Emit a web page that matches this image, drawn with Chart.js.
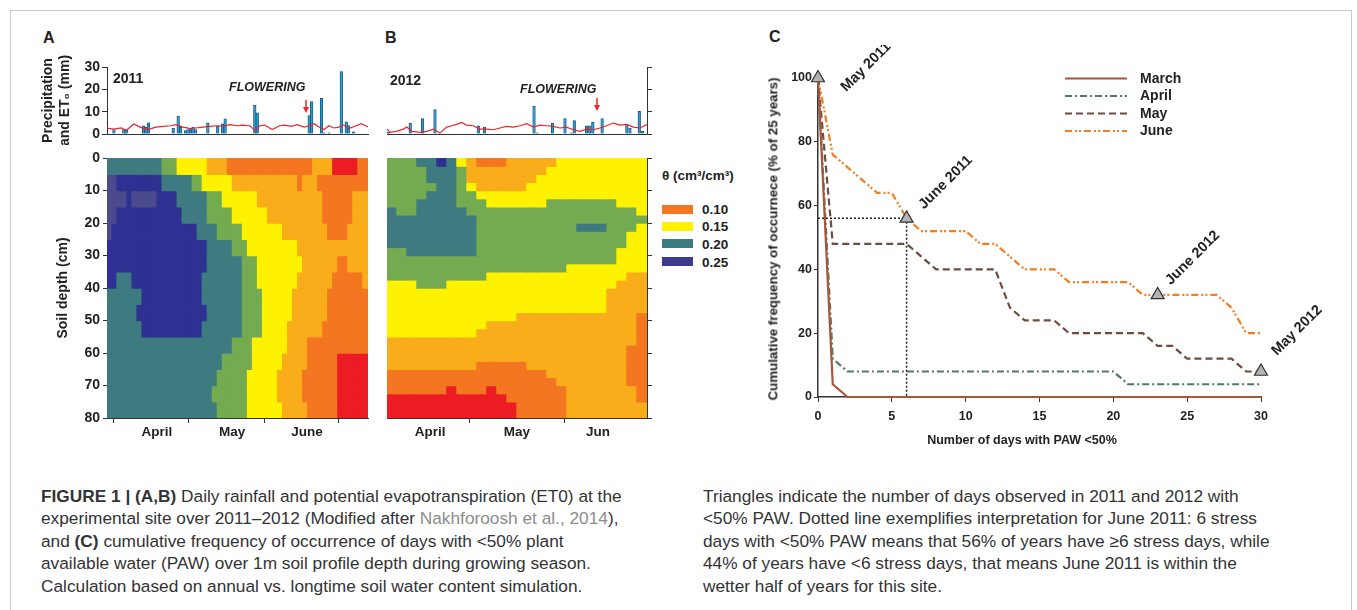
<!DOCTYPE html>
<html>
<head>
<meta charset="utf-8">
<title>Figure 1</title>
<script src="https://cdn.jsdelivr.net/npm/chart.js@4.4.1/dist/chart.umd.min.js"></script>
<style>
  body { margin: 0; background: #fff; }
  #page { position: relative; width: 1357px; height: 610px; overflow: hidden; font-family: 'Liberation Sans', Arial, sans-serif; color: #222; }
  #page canvas { position: absolute; }
  .t { position: absolute; white-space: nowrap; line-height: 1; }
  .letter { font-size: 16px; font-weight: bold; }
  .year { font-size: 14px; font-weight: bold; }
  .flower { font-size: 12.5px; font-weight: bold; font-style: italic; }
  .rot { position: absolute; white-space: nowrap; font-size: 13.3px; font-weight: bold; line-height: 1; transform: translate(-50%, -50%) rotate(-90deg); }
  .cap { position: absolute; top: 487px; font-size: 16px; line-height: 22.6px; color: #333; white-space: nowrap; }
  .cap .ref { color: #8c8c8c; }
  .key { position: absolute; left: 662px; width: 31px; height: 9px; }
  .keylab { position: absolute; left: 702px; font-size: 13.5px; font-weight: bold; line-height: 1; }
  #frame { position: absolute; left: 10px; top: 10px; width: 1342px; height: 640px; border: 1px solid #c9c9c9; box-sizing: border-box; }
</style>
</head>
<body>
<div id="page">
  <div id="frame"></div>

  <div class="t letter" style="left:43px;top:30px">A</div>
  <div class="t letter" style="left:385px;top:30px">B</div>
  <div class="t letter" style="left:769px;top:29px">C</div>

  <canvas id="rainA" width="335" height="90" style="left:40px;top:55px"></canvas>
  <canvas id="soilA" width="335" height="305" style="left:40px;top:145px"></canvas>
  <canvas id="rainB" width="280" height="90" style="left:380px;top:55px"></canvas>
  <canvas id="soilB" width="280" height="305" style="left:380px;top:145px"></canvas>
  <canvas id="freqC" width="602" height="415" style="left:755px;top:45px"></canvas>

  <div class="t year" style="left:113px;top:71px">2011</div>
  <div class="t year" style="left:390px;top:73px">2012</div>
  <div class="t flower" style="left:229px;top:81px">FLOWERING</div>
  <div class="t flower" style="left:520px;top:83px">FLOWERING</div>
  <svg class="t" style="left:300px;top:100px" width="12" height="14">
    <line x1="6" y1="0" x2="6" y2="8" stroke="#e8262b" stroke-width="1.5"/>
    <path d="M3 7 L9 7 L6 13 Z" fill="#e8262b"/>
  </svg>
  <svg class="t" style="left:591px;top:98px" width="12" height="14">
    <line x1="6" y1="0" x2="6" y2="8" stroke="#e8262b" stroke-width="1.5"/>
    <path d="M3 7 L9 7 L6 13 Z" fill="#e8262b"/>
  </svg>

  <div class="t" style="left:662px;top:168.5px;font-size:13.5px;font-weight:bold">θ (cm³/cm³)</div>
  <div class="key" style="top:205px;background:#f47621"></div>
  <div class="key" style="top:222px;background:#fff200"></div>
  <div class="key" style="top:239px;background:#3e7b81"></div>
  <div class="key" style="top:257px;background:#3b3a8c"></div>
  <div class="keylab" style="top:203px">0.10</div>
  <div class="keylab" style="top:220px">0.15</div>
  <div class="keylab" style="top:237.5px">0.20</div>
  <div class="keylab" style="top:255.5px">0.25</div>

  <div class="rot" style="left:773px;top:239px">Cumulative frequency of occurnece (% of 25 years)</div>
  <div class="t" style="left:1022px;top:434px;transform:translateX(-50%);font-size:12.5px;font-weight:bold">Number of days with PAW &lt;50%</div>

  <div class="cap" id="capL" style="left:41px">
    <span><b>FIGURE 1 | (A,B)</b> Daily rainfall and potential evapotranspiration (ET0) at the</span><br>
    <span>experimental site over 2011–2012 (Modified after <span class="ref">Nakhforoosh et al., 2014</span>),</span><br>
    <span>and <b>(C)</b> cumulative frequency of occurrence of days with &lt;50% plant</span><br>
    <span>available water (PAW) over 1m soil profile depth during growing season.</span><br>
    <span>Calculation based on annual vs. longtime soil water content simulation.</span>
  </div>
  <div class="cap" id="capR" style="left:703px">
    <span>Triangles indicate the number of days observed in 2011 and 2012 with</span><br>
    <span>&lt;50% PAW. Dotted line exemplifies interpretation for June 2011: 6 stress</span><br>
    <span>days with &lt;50% PAW means that 56% of years have ≥6 stress days, while</span><br>
    <span>44% of years have &lt;6 stress days, that means June 2011 is within the</span><br>
    <span>wetter half of years for this site.</span>
  </div>
</div>

<script>
// ===== A/B: daily rain and ET0 (days counted from 1 April) =====
const rainDaysA = [0, 4, 5, 12, 13, 14, 24, 26, 27, 29, 30, 31, 32, 33, 38, 42, 44, 45, 57, 58, 79, 80, 84, 85, 87, 92, 94, 95, 97];
const rainA = [2, 2, 2, 3.7, 3, 5, 2.7, 8, 3, 1.5, 2, 2.5, 3, 2, 5, 3.5, 4.5, 6.8, 13, 9.5, 8.3, 14.5, 16, 0.5, 0.5, 28, 5.4, 3.8, 1];
const etDaysA = [-3, 0, 3, 5, 8, 10, 13, 15, 17, 20, 23, 25, 28, 31, 33, 36, 39, 42, 44, 47, 50, 52, 55, 57, 59, 61, 64, 67, 69, 72, 74, 77, 79, 81, 83, 85, 87, 89, 91, 93, 95, 98, 100, 103];
const etA = [2.7, 2.2, 2.7, 1.6, 4.5, 3.4, 2, 2.4, 3.1, 3.4, 3.7, 4.2, 3.1, 2.4, 2.7, 3.1, 3.4, 3.7, 3.4, 4.2, 3.7, 4, 3.7, 1.6, 3.7, 4, 2, 3.7, 4, 3.4, 4.2, 3.1, 3.7, 4.6, 3.1, 2, 3.7, 2.7, 3.1, 4, 2.4, 3.7, 4.6, 3.1];

const rainDaysB = [4, 11, 15, 19, 33, 35, 51, 52, 57, 61, 63, 64, 68, 69, 70, 73, 81, 82, 85, 86];
const rainB = [0.8, 4.9, 6.9, 10.9, 3.7, 3.1, 12.4, 0.5, 4.9, 6.9, 0.5, 6, 3.7, 3.7, 5.2, 6.9, 4.2, 2.7, 10.1, 1.2];
const etDaysB = [3.6, 4.5, 6.6, 8.8, 9.9, 11.5, 14.2, 16.3, 18.5, 20.6, 22.8, 24.4, 26, 27.6, 29.2, 31.4, 33.5, 35.7, 37.8, 40, 42.1, 44.3, 46.5, 48.6, 50.8, 52.9, 55.1, 57.2, 59.4, 61.5, 63.7, 65.8, 68, 70.1, 72.3, 74.4, 76.6, 78.8, 80.9, 83.1, 85.2, 87.4];
const etB = [2.2, 0.7, 1.2, 2.2, 3.1, 1.2, 0.7, 1.2, 2.2, 0.4, 3.1, 3.7, 4.3, 5.2, 4, 3.7, 2.2, 2.2, 1.9, 2.7, 3.4, 3.1, 3.7, 4.6, 3.1, 4, 3.7, 3.4, 2.7, 3.1, 1.9, 1.2, 2.2, 1.9, 2.7, 3.7, 4.9, 4, 4.3, 3.1, 2.7, 4.2];

const dayRangeA = [-2.8, 102.8];
const dayRangeB = [3.5, 87.5];
const monthStartsA = [0, 30, 61, 91];
const monthStartsB = [30, 61];
const monthNamesA = ['April', 'May', 'June'];
const monthNamesB = ['April', 'May', 'Jun'];
const monthLabelDaysA = [17.4, 47.8, 78.1];
const monthLabelDaysB = [17.4, 45.5, 71.7];

// ===== A/B: soil water content classes (run-length rows, top to bottom) =====
// R red, O orange, A light orange, Y yellow, G green, T teal, B blue, P grey-blue
const depthEdgesA = [0, 5, 10, 15, 20, 25, 30, 35, 40, 45, 50, 55, 60, 65, 70, 75, 80];
const thetaA = [
  'T11 G3 Y6 A4 O17 A4 R5 O2',
  'P2 B9 T6 G2 Y6 A13 O1 A3 O10',
  'P4 B1 P5 B4 T6 G3 Y7 A13 O6 A3',
  'P2 B13 T5 G5 Y7 A11 O6 A3',
  'P1 B17 T4 G5 Y8 A9 O4 A4',
  'B20 T5 G3 Y10 A14',
  'B20 T7 G3 Y9 A7 O2 A4',
  'B2 T3 B14 T8 G3 Y8 A7 O6 A1',
  'T7 B12 T8 G4 Y6 A7 O8',
  'T6 B14 T7 G4 Y6 A7 O8',
  'T7 B12 T8 G4 Y5 A7 O9',
  'T25 G4 Y7 A4 O12',
  'T23 G6 Y6 A5 O6 R6',
  'T22 G6 Y6 A5 O7 R6',
  'T21 G7 Y6 A5 O7 R6',
  'T22 G6 Y7 A5 O6 R6'
];
const depthEdgesB = [0, 2.5, 5, 7.5, 10, 12.5, 15, 17.5, 20, 22.5, 25, 27.5, 30, 32.5, 35, 37.5, 40, 42.5, 45, 47.5, 50, 52.5, 55, 57.5, 60, 62.5, 65, 67.5, 70, 72.5, 75, 77.5, 80];
const thetaB = [
  'G3 T2 B1 T1 Y1 A1 O3 A5 Y9',
  'G4 T3 G1 A8 Y10',
  'G4 T3 G1 A7 Y11',
  'G5 T2 G1 Y1 A5 Y12',
  'G4 T3 G2 Y17',
  'G3 T4 G3 Y6 G7 Y3',
  'T1 G2 T5 G17 Y1',
  'T9 G17',
  'T9 G10 T3 G3 Y1',
  'T9 G15 Y2',
  'T9 G15 Y2',
  'G2 T7 G14 Y3',
  'G23 Y3',
  'G18 Y8',
  'G10 Y14 A2',
  'Y3 G3 Y17 A3',
  'Y22 A4',
  'Y22 A4',
  'Y22 A4',
  'Y13 A12 O1',
  'Y10 A15 O1',
  'Y9 A16 O1',
  'A25 O1',
  'A24 O2',
  'A24 O2',
  'A9 O5 A10 O2',
  'O16 A8 O2',
  'O17 A7 O2',
  'O6 R1 O3 R1 O7 A7 O1',
  'R12 O6 A7 O1',
  'R13 O5 A8',
  'R13 O5 A8'
];

// ===== C: cumulative frequency (% of 25 years) =====
const daysC = [0, 1, 2, 3, 4, 5, 6, 7, 8, 9, 10, 11, 12, 13, 14, 15, 16, 17, 18, 19, 20, 21, 22, 23, 24, 25, 26, 27, 28, 29, 30];
const marchC = [100, 4, 0, 0, 0, 0, 0, 0, 0, 0, 0, 0, 0, 0, 0, 0, 0, 0, 0, 0, 0, 0, 0, 0, 0, 0, 0, 0, 0, 0, 0];
const aprilC = [100, 12, 8, 8, 8, 8, 8, 8, 8, 8, 8, 8, 8, 8, 8, 8, 8, 8, 8, 8, 8, 4, 4, 4, 4, 4, 4, 4, 4, 4, 4];
const mayC = [100, 48, 48, 48, 48, 48, 48, 44, 40, 40, 40, 40, 40, 28, 24, 24, 24, 20, 20, 20, 20, 20, 20, 16, 16, 12, 12, 12, 12, 8, 8];
const juneC = [100, 76, 72, 68, 64, 64, 56, 52, 52, 52, 52, 48, 48, 44, 40, 40, 40, 36, 36, 36, 36, 36, 32, 32, 32, 32, 32, 32, 28, 20, 20];
const obsDays = [0, 6, 23, 30];
const obsFreq = [100, 56, 32, 8];
const obsNames = ['May 2011', 'June 2011', 'June 2012', 'May 2012'];
const guideDays = [0, 6, 6];
const guideFreq = [56, 56, 0];

// ===== styles =====
const thetaColors = { R: '#ec1c24', O: '#f47621', A: '#f9ad1a', Y: '#fff200', G: '#74aa50', T: '#3e7b81', B: '#2e3192', P: '#4a4a8c' };
const seriesC = [
  { label: 'March', data: marchC, color: '#a5573b', dash: [] },
  { label: 'April', data: aprilC, color: '#4f7c5f', dash: [7, 3, 2, 3] },
  { label: 'May', data: mayC, color: '#6e4d40', dash: [7, 4] },
  { label: 'June', data: juneC, color: '#f47d20', dash: [7, 3, 2, 2, 2, 3] }
];
const tagOffsets = [[48, -11], [39, -36], [35, -37], [36, -41]];

Chart.defaults.font.family = "'Liberation Sans', 'DejaVu Sans', Arial, sans-serif";
Chart.defaults.color = '#222';
const axisLine = { display: true, color: '#333', width: 1 };
const boldTick = size => ({ size: size, weight: 'bold' });
const base = {
  responsive: false, animation: false, devicePixelRatio: 1, events: [],
  plugins: { legend: { display: false }, tooltip: { enabled: false } }
};

function pts(xs, ys) { return xs.map((x, i) => ({ x: x, y: ys[i] })); }

function runs(row) {
  const out = [];
  row.split(' ').forEach(tok => {
    const n = parseInt(tok.slice(1), 10);
    for (let i = 0; i < n; i++) out.push(tok[0]);
  });
  return out;
}

// --- precipitation strip ---
function rainChart(id, days, rain, etDays, et, range, side) {
  const left = side === 'left';
  new Chart(document.getElementById(id), {
    type: 'bar',
    data: {
      datasets: [
        { type: 'line', data: pts(etDays, et), borderColor: '#e8262b', borderWidth: 1.2, pointRadius: 0, tension: 0 },
        { type: 'bar', data: pts(days, rain), backgroundColor: '#2a9fd6', borderColor: '#17476b', borderWidth: 0.8, barThickness: 2.6, grouped: false }
      ]
    },
    options: {
      ...base,
      layout: { padding: left ? { left: 0, right: 7, top: 12, bottom: 11 } : { left: 7, right: 0, top: 12, bottom: 11 } },
      scales: {
        x: {
          type: 'linear', min: range[0], max: range[1], offset: false,
          ticks: { display: false }, grid: { display: false }, border: axisLine,
          afterFit: s => { s.height = 0; }
        },
        y: {
          position: side, min: 0, max: 30,
          ticks: { display: left, stepSize: 10, font: boldTick(14), padding: 2 },
          grid: { drawOnChartArea: false, tickLength: 5, color: '#333' },
          border: axisLine,
          title: { display: left, text: ['Precipitation', 'and ET₀ (mm)'], font: { size: 14, weight: 'bold' }, padding: { top: 0, bottom: 0 } },
          afterFit: s => { s.width = left ? 67 : 13; }
        }
      }
    }
  });
}

// --- soil water contour, drawn as cells ---
function soilChart(id, grid, edges, range, starts, labelDays, names, side) {
  const left = side === 'left';
  const rows = grid.map(runs);
  const cols = rows[0].map((_, i) => i);
  const monthTicks = starts.map(v => ({ value: v, label: '' }))
    .concat(labelDays.map((v, i) => ({ value: v, label: names[i] })))
    .sort((a, b) => a.value - b.value);
  new Chart(document.getElementById(id), {
    type: 'bar',
    data: {
      labels: cols,
      datasets: rows.map((cls, r) => ({
        data: cls.map(() => [edges[r], edges[r + 1]]),
        backgroundColor: cls.map(c => thetaColors[c]),
        borderWidth: 0, inflateAmount: 0.7, grouped: false,
        categoryPercentage: 1, barPercentage: 1
      }))
    },
    options: {
      ...base,
      layout: { padding: left ? { left: 0, right: 7, top: 13, bottom: 10 } : { left: 7, right: 0, top: 13, bottom: 10 } },
      scales: {
        x: { display: false },
        xd: {
          type: 'linear', position: 'bottom', min: range[0], max: range[1], offset: false,
          afterBuildTicks: ax => { ax.ticks = monthTicks.map(t => ({ value: t.value })); },
          afterFit: s => { s.height = 22; },
          ticks: { autoSkip: false, maxRotation: 0, padding: 1, font: boldTick(13.5), callback: (v, i) => monthTicks[i].label },
          grid: {
            offset: false, drawOnChartArea: false, tickLength: 5,
            tickColor: c => (monthTicks[c.index] && monthTicks[c.index].label === '') ? '#333' : 'rgba(0,0,0,0)'
          },
          border: axisLine
        },
        y: {
          position: side, reverse: true, min: 0, max: 80,
          ticks: { display: left, stepSize: 10, font: boldTick(14), padding: 3 },
          grid: { drawOnChartArea: false, tickLength: left ? 4 : 5, color: '#333' },
          border: axisLine,
          title: { display: left, text: 'Soil depth (cm)', font: { size: 14, weight: 'bold' }, padding: { top: 15, bottom: 0 } },
          afterFit: s => { s.width = left ? 67 : 13; }
        }
      }
    }
  });
}

rainChart('rainA', rainDaysA, rainA, etDaysA, etA, dayRangeA, 'left');
rainChart('rainB', rainDaysB, rainB, etDaysB, etB, dayRangeB, 'right');
soilChart('soilA', thetaA, depthEdgesA, dayRangeA, monthStartsA, monthLabelDaysA, monthNamesA, 'left');
soilChart('soilB', thetaB, depthEdgesB, dayRangeB, monthStartsB, monthLabelDaysB, monthNamesB, 'right');

// --- panel C ---
const tagsAndKey = {
  id: 'tagsAndKey',
  afterDatasetsDraw(chart) {
    const { ctx, scales: { x, y } } = chart;
    ctx.save();
    ctx.fillStyle = '#222';
    ctx.textBaseline = 'middle';
    ctx.font = "bold 14.5px 'Liberation Sans', Arial, sans-serif";
    ctx.textAlign = 'center';
    obsDays.forEach((d, i) => {
      ctx.save();
      ctx.translate(x.getPixelForValue(d) + tagOffsets[i][0], y.getPixelForValue(obsFreq[i]) + tagOffsets[i][1]);
      ctx.rotate(-Math.PI / 4);
      ctx.fillText(obsNames[i], 0, 0);
      ctx.restore();
    });
    ctx.font = "bold 14px 'Liberation Sans', Arial, sans-serif";
    ctx.textAlign = 'left';
    seriesC.forEach((s, i) => {
      const ly = 33.5 + i * 17.5;
      ctx.strokeStyle = s.color;
      ctx.lineWidth = 2.2;
      ctx.setLineDash(s.dash);
      ctx.beginPath();
      ctx.moveTo(310, ly);
      ctx.lineTo(372, ly);
      ctx.stroke();
      ctx.setLineDash([]);
      ctx.fillText(s.label, 385, ly + 0.5);
    });
    ctx.restore();
  }
};

new Chart(document.getElementById('freqC'), {
  type: 'line',
  data: {
    datasets: [
      {
        data: pts(obsDays, obsFreq), showLine: false, pointStyle: 'triangle', pointRadius: 7.5,
        pointBackgroundColor: '#b3b3b3', pointBorderColor: '#333', pointBorderWidth: 1.2, clip: false
      },
      {
        data: pts(guideDays, guideFreq), borderColor: '#222', borderWidth: 1.5, borderDash: [2, 2],
        pointRadius: 0, tension: 0, clip: false
      }
    ].concat(seriesC.map(s => ({
      data: pts(daysC, s.data), borderColor: s.color, borderWidth: 2.2, borderDash: s.dash,
      pointRadius: 0, tension: 0, clip: false
    })))
  },
  options: {
    ...base,
    layout: { padding: { left: 0, right: 96, top: 33, bottom: 8 } },
    scales: {
      x: {
        type: 'linear', min: 0, max: 30,
        ticks: { stepSize: 5, font: boldTick(12.5), padding: 7 },
        grid: { drawOnChartArea: false, tickLength: 5, color: '#333' },
        border: { display: true, color: '#333', width: 1.5 },
        afterFit: s => { s.height = 55; }
      },
      y: {
        min: 0, max: 100,
        ticks: { stepSize: 20, font: boldTick(12.5), padding: 2 },
        grid: { drawOnChartArea: false, tickLength: 4, color: '#333' },
        border: { display: true, color: '#333', width: 1.5 },
        afterFit: s => { s.width = 63; }
      }
    }
  },
  plugins: [tagsAndKey]
});

// caption: one type size for both columns, chosen so the first left line
// spans the same width as in the figure; baseline of line 1 near y=502
const cols = [document.getElementById('capL'), document.getElementById('capR')];
const w16 = cols[0].querySelector('span').getBoundingClientRect().width;
const fs = 16 * 581 / w16;
const lh = 22.6;
cols.forEach(col => {
  col.style.fontSize = fs + 'px';
  col.style.top = (502 - ((lh - 1.117 * fs) / 2 + 0.905 * fs)) + 'px';
});
</script>
</body>
</html>
